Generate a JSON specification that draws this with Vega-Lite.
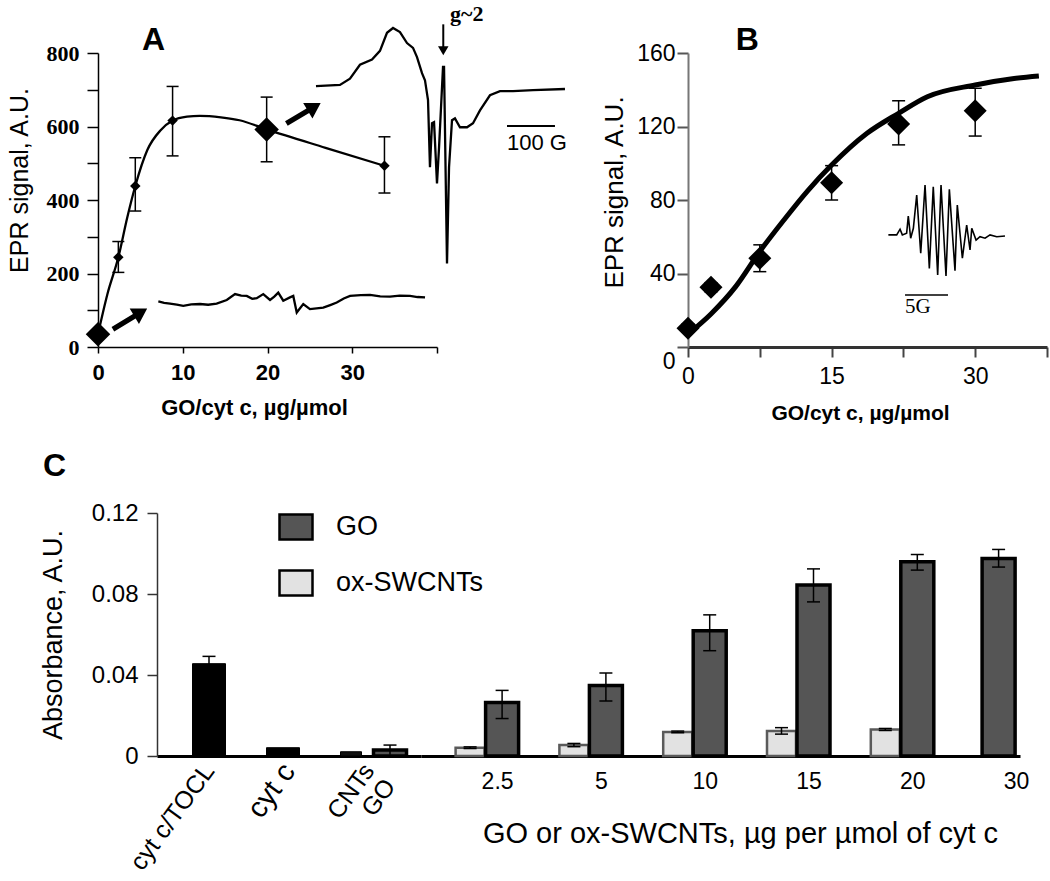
{
  "$schema": "https://vega.github.io/schema/vega-lite/v6.json",
  "autosize": {"type": "none"},
  "padding": {"left": 98, "top": 53, "right": 952, "bottom": 828},
  "background": "white",
  "datasets": {
    "ptsA": [
      {"x": 0, "y": 35, "lo": null, "hi": null, "inset": "yes"},
      {"x": 2.4, "y": 244, "lo": 203, "hi": 287, "inset": "no"},
      {"x": 4.4, "y": 438, "lo": 370, "hi": 515, "inset": "no"},
      {"x": 8.8, "y": 616, "lo": 520, "hi": 709, "inset": "no"},
      {"x": 19.9, "y": 592, "lo": 504, "hi": 680, "inset": "yes"},
      {"x": 33.8, "y": 493, "lo": 419, "hi": 572, "inset": "no"}
    ],
    "curveA": [
      {"x": 0, "y": 35}, {"x": 1.1, "y": 143}, {"x": 2.4, "y": 244}, {"x": 3.46, "y": 353},
      {"x": 4.4, "y": 438}, {"x": 5.82, "y": 536}, {"x": 7.39, "y": 590}, {"x": 8.8, "y": 616},
      {"x": 10.5, "y": 627}, {"x": 12, "y": 629}, {"x": 14.5, "y": 625}, {"x": 16.7, "y": 617},
      {"x": 19.9, "y": 592}, {"x": 26.85, "y": 542}, {"x": 33.8, "y": 493}
    ],
    "specA1": [
      {"x": 25.72, "y": 710}, {"x": 28.55, "y": 713}, {"x": 29.73, "y": 730}, {"x": 30.91, "y": 768},
      {"x": 32.33, "y": 782}, {"x": 33.27, "y": 806}, {"x": 34.1, "y": 855}, {"x": 34.81, "y": 868},
      {"x": 35.63, "y": 857}, {"x": 36.46, "y": 827}, {"x": 37.17, "y": 814}, {"x": 37.64, "y": 789},
      {"x": 38.23, "y": 745}, {"x": 38.58, "y": 726}, {"x": 38.94, "y": 672}, {"x": 39.17, "y": 489},
      {"x": 39.41, "y": 609}, {"x": 39.65, "y": 612}, {"x": 40.0, "y": 445}, {"x": 40.24, "y": 543},
      {"x": 40.71, "y": 762}, {"x": 40.83, "y": 762}, {"x": 41.18, "y": 227}, {"x": 41.42, "y": 489},
      {"x": 41.77, "y": 617}, {"x": 42.12, "y": 622}, {"x": 42.71, "y": 598}, {"x": 43.54, "y": 598},
      {"x": 44.25, "y": 609}, {"x": 45.07, "y": 644}, {"x": 46.25, "y": 685}, {"x": 47.43, "y": 696},
      {"x": 48.97, "y": 696}, {"x": 51.33, "y": 699}, {"x": 55.1, "y": 702}
    ],
    "specA2": [
      {"x": 7.12, "y": 124}, {"x": 7.8, "y": 120}, {"x": 8.5, "y": 118}, {"x": 9.3, "y": 115},
      {"x": 10.06, "y": 112}, {"x": 11, "y": 116}, {"x": 12.04, "y": 117}, {"x": 13, "y": 115},
      {"x": 14.0, "y": 118}, {"x": 15.19, "y": 128}, {"x": 16.17, "y": 144}, {"x": 16.9, "y": 140},
      {"x": 17.55, "y": 139}, {"x": 18.2, "y": 131}, {"x": 18.73, "y": 133}, {"x": 19.5, "y": 144},
      {"x": 20.3, "y": 128}, {"x": 20.8, "y": 137}, {"x": 21.27, "y": 148}, {"x": 21.86, "y": 126},
      {"x": 22.65, "y": 135}, {"x": 23.04, "y": 139}, {"x": 23.45, "y": 94}, {"x": 24.22, "y": 117},
      {"x": 25.01, "y": 103}, {"x": 26.58, "y": 107}, {"x": 27.4, "y": 114}, {"x": 28.17, "y": 121},
      {"x": 29.0, "y": 132}, {"x": 29.74, "y": 139}, {"x": 31, "y": 141}, {"x": 32.1, "y": 142},
      {"x": 33.3, "y": 138}, {"x": 34.46, "y": 137}, {"x": 35.6, "y": 140}, {"x": 36.82, "y": 139},
      {"x": 37.7, "y": 136}, {"x": 38.59, "y": 135}
    ],
    "arrowsA": [{"x": 3.78, "y": 76.5}, {"x": 24.25, "y": 636}],
    "labelA": [{"x": 6.55, "y": 808, "t": "A"}],
    "gA": [{"x": 41.53, "y": 887, "t": "g~2"}],
    "gArrowA": [{"x": 40.74, "y": 878, "y2": 812}],
    "gHeadA": [{"x": 40.74, "y": 806}],
    "barA": [{"x": 48.26, "x2": 53.92, "y": 601.5}],
    "barTextA": [{"x": 48.26, "y": 535, "t": "100 G"}],
    "ptsB": [
      {"x": 0, "y": 10.2, "lo": 8, "hi": 12.5},
      {"x": 2.4, "y": 32.5, "lo": 30, "hi": 35},
      {"x": 7.5, "y": 48.3, "lo": 41, "hi": 55.6},
      {"x": 15, "y": 89.4, "lo": 80, "hi": 98.7},
      {"x": 22, "y": 121.4, "lo": 110, "hi": 134},
      {"x": 30, "y": 128.6, "lo": 114.8, "hi": 140.8}
    ],
    "curveB": [
      {"x": 0, "y": 7}, {"x": 2.4, "y": 18}, {"x": 5, "y": 33}, {"x": 7.5, "y": 52},
      {"x": 10, "y": 69}, {"x": 12.5, "y": 85}, {"x": 15, "y": 99}, {"x": 18.7, "y": 116.3},
      {"x": 22, "y": 127.2}, {"x": 25, "y": 136.2}, {"x": 30, "y": 142.6}, {"x": 33.7, "y": 145.9},
      {"x": 36.65, "y": 147.5}
    ],
    "specB": [
      {"x": 20.93, "y": 61.0}, {"x": 21.8, "y": 61.0}, {"x": 22.15, "y": 64.1}, {"x": 22.39, "y": 61.0},
      {"x": 22.84, "y": 61.9}, {"x": 23.01, "y": 71.3}, {"x": 23.26, "y": 59.2}, {"x": 23.54, "y": 64.6},
      {"x": 23.89, "y": 82.7}, {"x": 24.31, "y": 51.0}, {"x": 24.76, "y": 88.2}, {"x": 25.21, "y": 42.8},
      {"x": 25.62, "y": 87.2}, {"x": 26.08, "y": 39.2}, {"x": 26.43, "y": 88.2}, {"x": 26.95, "y": 38.6},
      {"x": 27.3, "y": 85.8}, {"x": 27.89, "y": 41.5}, {"x": 28.13, "y": 77.3}, {"x": 28.66, "y": 48.3},
      {"x": 29.11, "y": 66.4}, {"x": 29.46, "y": 52.8}, {"x": 29.64, "y": 64.6}, {"x": 30.09, "y": 58.2},
      {"x": 30.5, "y": 60.0}, {"x": 31.03, "y": 59.2}, {"x": 31.55, "y": 61.0}, {"x": 32.25, "y": 60.0},
      {"x": 33.11, "y": 60.4}
    ],
    "barB": [{"x": 22.67, "x2": 27.16, "y": 28.3}],
    "barTextB": [{"x": 22.67, "y": 18.5, "t": "5G"}],
    "labelB": [{"x": 6.2, "y": 161.6, "t": "B"}],
    "c1": [
      {"cat": "cyt c/TOCL", "group": "control", "value": 0.0456, "lo": 0.042, "hi": 0.0492},
      {"cat": "cyt c", "group": "control", "value": 0.0041, "lo": null, "hi": null},
      {"cat": "CNTs GO", "group": "CNTs", "value": 0.0021, "lo": null, "hi": null},
      {"cat": "CNTs GO", "group": "GO", "value": 0.003, "lo": 0.0006, "hi": 0.0054}
    ],
    "c2": [
      {"dose": "2.5", "group": "ox-SWCNTs", "value": 0.0041, "lo": 0.0037, "hi": 0.0045},
      {"dose": "2.5", "group": "GO", "value": 0.0264, "lo": 0.0185, "hi": 0.0324},
      {"dose": "5", "group": "ox-SWCNTs", "value": 0.0054, "lo": 0.0046, "hi": 0.0062},
      {"dose": "5", "group": "GO", "value": 0.0348, "lo": 0.0272, "hi": 0.041},
      {"dose": "10", "group": "ox-SWCNTs", "value": 0.0119, "lo": 0.0115, "hi": 0.0123},
      {"dose": "10", "group": "GO", "value": 0.0618, "lo": 0.052, "hi": 0.0697},
      {"dose": "15", "group": "ox-SWCNTs", "value": 0.0124, "lo": 0.0108, "hi": 0.014},
      {"dose": "15", "group": "GO", "value": 0.0844, "lo": 0.0761, "hi": 0.0924},
      {"dose": "20", "group": "ox-SWCNTs", "value": 0.0131, "lo": 0.0126, "hi": 0.0136},
      {"dose": "20", "group": "GO", "value": 0.0959, "lo": 0.0918, "hi": 0.0995},
      {"dose": "30", "group": "GO", "value": 0.0975, "lo": 0.0933, "hi": 0.102}
    ]
  },
  "bounds": "flush",
  "spacing": 166,
  "resolve": {"scale": {"fill": "independent"}, "legend": {"fill": "independent"}},
  "vconcat": [
    {
      "width": 949,
      "height": 294,
      "resolve": {"scale": {"x": "independent", "y": "independent"}, "axis": {"x": "independent", "y": "independent"}},
      "layer": [
        {
          "encoding": {
            "x": {
              "field": "x", "type": "quantitative",
              "scale": {"domain": [0, 40], "range": [0, 339], "nice": false, "zero": false},
              "axis": {
                "orient": "bottom",
                "values": [0, 10, 20, 30, 40],
                "labelExpr": "datum.value < 40 ? datum.label : ''",
                "tickSize": 6, "tickWidth": 1.5, "domainWidth": 1.5,
                "labelFont": "Liberation Sans", "labelFontWeight": "bold", "labelFontSize": 22, "labelPadding": 9,
                "title": "GO/cyt c,  µg/µmol", "titleFont": "Liberation Sans", "titleFontWeight": "bold", "titleFontSize": 22,
                "titlePadding": 14, "titleX": 156
              }
            },
            "y": {
              "field": "y", "type": "quantitative",
              "scale": {"domain": [0, 800], "nice": false, "zero": false},
              "axis": {
                "orient": "left",
                "values": [0, 100, 200, 300, 400, 500, 600, 700, 800],
                "labelExpr": "datum.value % 200 === 0 ? datum.label : ''",
                "tickSize": 11, "tickWidth": 1.5, "domainWidth": 1.5,
                "labelFont": "Liberation Serif", "labelFontWeight": "bold", "labelFontSize": 22, "labelPadding": 8,
                "title": "EPR signal, A.U.", "titleFont": "Liberation Sans", "titleFontWeight": "normal", "titleFontSize": 25,
                "titlePadding": 14, "titleY": 127
              }
            }
          },
          "layer": [
            {"data": {"name": "specA1"}, "mark": {"type": "line", "color": "black", "strokeWidth": 2.3}},
            {"data": {"name": "specA2"}, "mark": {"type": "line", "color": "black", "strokeWidth": 2.3}},
            {"data": {"name": "curveA"}, "mark": {"type": "line", "color": "black", "strokeWidth": 2.3, "interpolate": "monotone"}},
            {
              "data": {"name": "ptsA"},
              "mark": {"type": "rule", "color": "black", "strokeWidth": 1.5},
              "encoding": {
                "y": {"field": "lo", "type": "quantitative", "title": "EPR signal, A.U.", "scale": {"domain": [0, 800], "nice": false, "zero": false}},
                "y2": {"field": "hi"}
              }
            },
            {
              "data": {"name": "ptsA"},
              "mark": {"type": "tick", "orient": "horizontal", "color": "black", "size": 12, "thickness": 1.5, "opacity": 1},
              "encoding": {"y": {"field": "lo", "type": "quantitative", "title": "EPR signal, A.U.", "scale": {"domain": [0, 800], "nice": false, "zero": false}}}
            },
            {
              "data": {"name": "ptsA"},
              "mark": {"type": "tick", "orient": "horizontal", "color": "black", "size": 12, "thickness": 1.5, "opacity": 1},
              "encoding": {"y": {"field": "hi", "type": "quantitative", "title": "EPR signal, A.U.", "scale": {"domain": [0, 800], "nice": false, "zero": false}}}
            },
            {
              "data": {"name": "ptsA"},
              "mark": {"type": "point", "shape": "diamond", "filled": true, "color": "black", "opacity": 1},
              "encoding": {"size": {"condition": {"test": "datum.inset === 'yes'", "value": 600}, "value": 110}}
            },
            {
              "data": {"name": "arrowsA"},
              "mark": {"type": "point", "shape": "M-1,-0.13L0.25,-0.13L0.25,-0.45L1,0L0.25,0.45L0.25,0.13L-1,0.13Z", "filled": true, "color": "black", "size": 1600, "angle": -31, "opacity": 1}
            },
            {
              "data": {"name": "labelA"},
              "mark": {"type": "text", "font": "Liberation Sans", "fontSize": 32, "fontWeight": "bold", "align": "center", "baseline": "alphabetic", "color": "black"},
              "encoding": {"text": {"field": "t"}}
            },
            {
              "data": {"name": "gA"},
              "mark": {"type": "text", "font": "Liberation Serif", "fontSize": 22, "fontWeight": "bold", "align": "left", "baseline": "alphabetic", "color": "black"},
              "encoding": {"text": {"field": "t"}}
            },
            {
              "data": {"name": "gArrowA"},
              "mark": {"type": "rule", "color": "black", "strokeWidth": 2},
              "encoding": {"y2": {"field": "y2"}}
            },
            {
              "data": {"name": "gHeadA"},
              "mark": {"type": "point", "shape": "triangle-down", "filled": true, "color": "black", "size": 110, "opacity": 1}
            },
            {
              "data": {"name": "barA"},
              "mark": {"type": "rule", "color": "black", "strokeWidth": 2},
              "encoding": {"x2": {"field": "x2"}}
            },
            {
              "data": {"name": "barTextA"},
              "mark": {"type": "text", "font": "Liberation Sans", "fontSize": 22, "align": "left", "baseline": "alphabetic", "color": "black"},
              "encoding": {"text": {"field": "t"}}
            }
          ]
        },
        {
          "encoding": {
            "x": {
              "field": "x", "type": "quantitative",
              "scale": {"domain": [0, 37.5], "range": [590, 949], "nice": false, "zero": false},
              "axis": {
                "orient": "bottom",
                "values": [0, 7.5, 15, 22.5, 30, 37.5],
                "labelExpr": "datum.value % 15 === 0 ? datum.label : ''",
                "tickSize": 10, "tickWidth": 2, "tickColor": "#444", "domainWidth": 3, "domainColor": "#333",
                "labelFont": "Liberation Sans", "labelFontSize": 23, "labelPadding": 8,
                "title": "GO/cyt c,  µg/µmol", "titleFont": "Liberation Sans", "titleFontWeight": "bold", "titleFontSize": 21,
                "titlePadding": 14, "titleX": 762
              }
            },
            "y": {
              "field": "y", "type": "quantitative",
              "scale": {"domain": [0, 160], "nice": false, "zero": false},
              "axis": {
                "orient": "left", "offset": -590,
                "values": [0, 40, 80, 120, 160],
                "tickSize": 11, "tickWidth": 2, "tickColor": "#555", "domainWidth": 2, "domainColor": "#777",
                "labelFont": "Liberation Sans", "labelFontSize": 23, "labelPadding": 2,
                "labelOffset": {"condition": {"test": "datum.value === 0", "value": 14}, "value": 0},
                "title": "EPR signal, A.U.", "titleFont": "Liberation Sans", "titleFontWeight": "normal", "titleFontSize": 26,
                "titlePadding": 9, "titleY": 139
              }
            }
          },
          "layer": [
            {"data": {"name": "specB"}, "mark": {"type": "line", "color": "black", "strokeWidth": 1.6}},
            {"data": {"name": "curveB"}, "mark": {"type": "line", "color": "black", "strokeWidth": 5, "interpolate": "monotone"}},
            {
              "data": {"name": "ptsB"},
              "mark": {"type": "rule", "color": "black", "strokeWidth": 1.5},
              "encoding": {
                "y": {"field": "lo", "type": "quantitative", "title": "EPR signal, A.U.", "scale": {"domain": [0, 160], "nice": false, "zero": false}},
                "y2": {"field": "hi"}
              }
            },
            {
              "data": {"name": "ptsB"},
              "mark": {"type": "tick", "orient": "horizontal", "color": "black", "size": 13, "thickness": 1.5, "opacity": 1},
              "encoding": {"y": {"field": "lo", "type": "quantitative", "title": "EPR signal, A.U.", "scale": {"domain": [0, 160], "nice": false, "zero": false}}}
            },
            {
              "data": {"name": "ptsB"},
              "mark": {"type": "tick", "orient": "horizontal", "color": "black", "size": 13, "thickness": 1.5, "opacity": 1},
              "encoding": {"y": {"field": "hi", "type": "quantitative", "title": "EPR signal, A.U.", "scale": {"domain": [0, 160], "nice": false, "zero": false}}}
            },
            {
              "data": {"name": "ptsB"},
              "mark": {"type": "point", "shape": "diamond", "filled": true, "color": "black", "size": 530, "opacity": 1}
            },
            {
              "data": {"name": "barB"},
              "mark": {"type": "rule", "color": "black", "strokeWidth": 1.5},
              "encoding": {"x2": {"field": "x2"}}
            },
            {
              "data": {"name": "barTextB"},
              "mark": {"type": "text", "font": "Liberation Serif", "fontSize": 21, "align": "left", "baseline": "alphabetic", "color": "black"},
              "encoding": {"text": {"field": "t"}}
            },
            {
              "data": {"name": "labelB"},
              "mark": {"type": "text", "font": "Liberation Sans", "fontSize": 32, "fontWeight": "bold", "align": "center", "baseline": "alphabetic", "color": "black"},
              "encoding": {"text": {"field": "t"}}
            }
          ]
        }
      ]
    },
    {
      "width": 922,
      "height": 243,
      "title": {"text": "C", "anchor": "start", "frame": "group", "dx": -55, "offset": 18, "fontSize": 32, "fontWeight": "bold", "font": "Liberation Sans", "color": "black"},
      "resolve": {"scale": {"x": "independent"}, "axis": {"x": "independent"}},
      "layer": [
        {
          "data": {"name": "c1"},
          "encoding": {
            "x": {
              "field": "cat", "type": "nominal", "sort": null,
              "scale": {"domain": ["cyt c/TOCL", "cyt c", "CNTs GO"], "range": [59, 323], "paddingInner": 0, "paddingOuter": 0.15, "round": false},
              "axis": {
                "orient": "bottom",
                "title": null, "domainWidth": 3, "domainColor": "black", "ticks": false,
                "labelAngle": -54, "labelAlign": "right", "labelBaseline": "middle", "labelPadding": 10,
                "labelFont": "Liberation Sans",
                "labelFontSize": {"condition": {"test": "datum.value === 'cyt c'", "value": 29}, "value": 25},
                "labelExpr": "datum.value === 'CNTs GO' ? ['CNTs', 'GO'] : datum.label",
                "labelLineHeight": 26, "labelLimit": 0
              }
            },
            "y": {
              "field": "value", "type": "quantitative", "stack": null,
              "scale": {"domain": [0, 0.12], "nice": false, "zero": true},
              "axis": {
                "orient": "left", "offset": -59,
                "values": [0, 0.04, 0.08, 0.12],
                "labelExpr": "datum.value === 0 ? '0' : format(datum.value, '.2f')",
                "tickSize": 10, "tickWidth": 1.5, "domainWidth": 1.5, "domainColor": "#333", "tickColor": "#333",
                "labelFont": "Liberation Sans", "labelFontSize": 24, "labelPadding": 9,
                "title": "Absorbance, A.U.", "titleFont": "Liberation Sans", "titleFontWeight": "normal", "titleFontSize": 27,
                "titlePadding": 24
              }
            }
          },
          "layer": [
            {
              "mark": {
                "type": "bar",
                "width": {"expr": "datum.group === 'CNTs' ? 21 : 33"},
                "xOffset": {"expr": "datum.group === 'CNTs' ? -18 : datum.group === 'GO' ? 21 : datum.cat === 'cyt c' ? -6 : 0"}
              },
              "encoding": {
                "fill": {
                  "field": "group", "type": "nominal",
                  "scale": {"domain": ["GO", "ox-SWCNTs", "control", "CNTs"], "range": ["#555555", "#e2e2e2", "#000000", "#111111"]},
                  "legend": {
                    "orient": "none", "legendX": 180, "legendY": -4, "values": ["GO", "ox-SWCNTs"], "title": null,
                    "symbolType": "M-1,-0.76L1,-0.76L1,0.76L-1,0.76Z", "symbolSize": 1089,
                    "symbolStrokeColor": "black", "symbolStrokeWidth": 2.5,
                    "labelFont": "Liberation Sans", "labelFontSize": 27, "labelColor": "black", "labelOffset": 22, "rowPadding": 20
                  }
                },
                "stroke": {"value": "black"},
                "strokeWidth": {"condition": {"test": "datum.group === 'GO'", "value": 3.5}, "value": 1}
              }
            },
            {
              "mark": {"type": "rule", "color": "black", "strokeWidth": 1.5, "xOffset": {"expr": "datum.group === 'CNTs' ? -18 : datum.group === 'GO' ? 21 : datum.cat === 'cyt c' ? -6 : 0"}},
              "encoding": {
                "y": {"field": "lo", "type": "quantitative", "title": "Absorbance, A.U.", "scale": {"domain": [0, 0.12], "nice": false, "zero": true}},
                "y2": {"field": "hi"}
              }
            },
            {
              "mark": {"type": "tick", "orient": "horizontal", "size": 13, "thickness": 1.5, "color": "black", "opacity": 1, "xOffset": {"expr": "datum.group === 'CNTs' ? -18 : datum.group === 'GO' ? 21 : datum.cat === 'cyt c' ? -6 : 0"}},
              "encoding": {"y": {"field": "hi", "type": "quantitative", "title": "Absorbance, A.U.", "scale": {"domain": [0, 0.12], "nice": false, "zero": true}}}
            }
          ]
        },
        {
          "data": {"name": "c2"},
          "encoding": {
            "x": {
              "field": "dose", "type": "nominal", "sort": null,
              "scale": {"domain": ["2.5", "5", "10", "15", "20", "30"], "range": [323, 922], "paddingInner": 0.7033, "paddingOuter": 0.237, "align": 1, "round": false},
              "axis": {
                "orient": "bottom",
                "title": "GO or ox-SWCNTs, µg per µmol of cyt c", "domainWidth": 3, "domainColor": "black", "ticks": false,
                "labelAngle": 0, "labelFont": "Liberation Sans", "labelFontSize": 23, "labelPadding": 14, "labelOffset": 12,
                "titleFont": "Liberation Sans", "titleFontWeight": "normal", "titleFontSize": 29, "titlePadding": 26, "titleX": 642
              }
            },
            "y": {
              "field": "value", "type": "quantitative", "title": "Absorbance, A.U.", "stack": null,
              "scale": {"domain": [0, 0.12], "nice": false, "zero": true}
            }
          },
          "layer": [
            {
              "mark": {
                "type": "bar",
                "width": {"expr": "datum.group === 'ox-SWCNTs' ? 29 : 33"},
                "xOffset": {"expr": "datum.group === 'ox-SWCNTs' ? -15.5 : datum.dose === '30' ? -6 : 16.5"}
              },
              "encoding": {
                "fill": {
                  "field": "group", "type": "nominal",
                  "scale": {"domain": ["GO", "ox-SWCNTs", "control", "CNTs"], "range": ["#555555", "#e2e2e2", "#000000", "#111111"]}
                },
                "stroke": {"condition": {"test": "datum.group === 'ox-SWCNTs'", "value": "#5a5a5a"}, "value": "black"},
                "strokeWidth": {"condition": {"test": "datum.group === 'ox-SWCNTs'", "value": 2.5}, "value": 3.5}
              }
            },
            {
              "mark": {"type": "rule", "color": "black", "strokeWidth": 1.5, "xOffset": {"expr": "datum.group === 'ox-SWCNTs' ? -15.5 : datum.dose === '30' ? -6 : 16.5"}},
              "encoding": {
                "y": {"field": "lo", "type": "quantitative", "title": "Absorbance, A.U.", "scale": {"domain": [0, 0.12], "nice": false, "zero": true}},
                "y2": {"field": "hi"}
              }
            },
            {
              "mark": {"type": "tick", "orient": "horizontal", "size": 13, "thickness": 1.5, "color": "black", "opacity": 1, "xOffset": {"expr": "datum.group === 'ox-SWCNTs' ? -15.5 : datum.dose === '30' ? -6 : 16.5"}},
              "encoding": {"y": {"field": "lo", "type": "quantitative", "title": "Absorbance, A.U.", "scale": {"domain": [0, 0.12], "nice": false, "zero": true}}}
            },
            {
              "mark": {"type": "tick", "orient": "horizontal", "size": 13, "thickness": 1.5, "color": "black", "opacity": 1, "xOffset": {"expr": "datum.group === 'ox-SWCNTs' ? -15.5 : datum.dose === '30' ? -6 : 16.5"}},
              "encoding": {"y": {"field": "hi", "type": "quantitative", "title": "Absorbance, A.U.", "scale": {"domain": [0, 0.12], "nice": false, "zero": true}}}
            }
          ]
        }
      ]
    }
  ],
  "config": {
    "view": {"stroke": null},
    "font": "Liberation Sans",
    "axis": {
      "grid": false, "labelColor": "black", "titleColor": "black", "domainColor": "black", "tickColor": "black",
      "labelFlush": false, "labelOverlap": false, "labelBound": false
    }
  }
}
